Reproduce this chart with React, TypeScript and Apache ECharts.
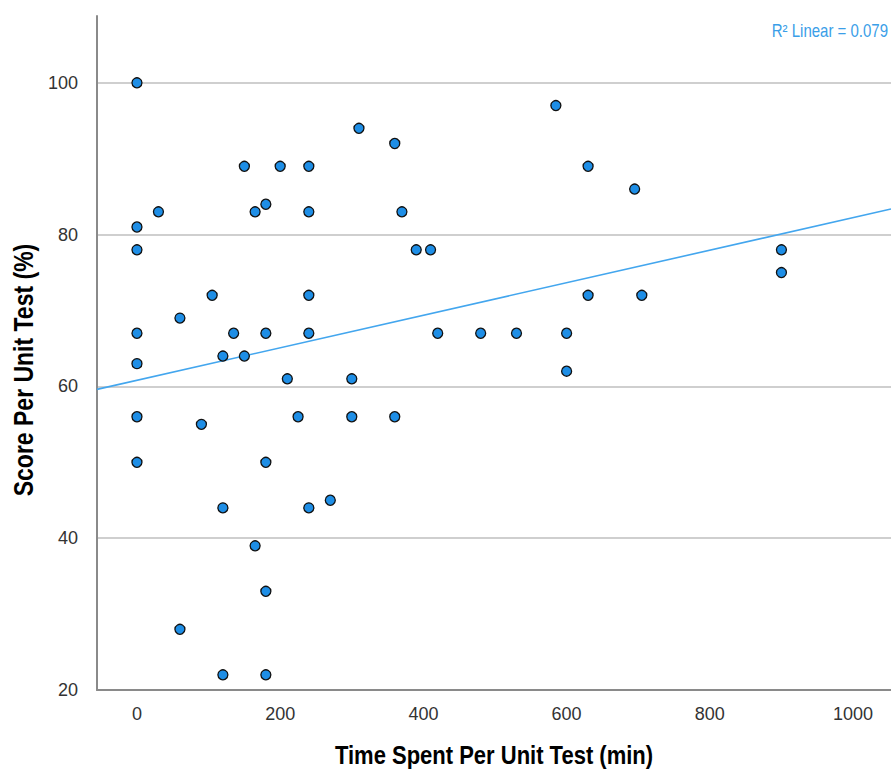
import React, { useEffect, useRef } from "react";
import * as echarts from "echarts";

// Data
const timeSpent = [
  0, 0, 0, 0, 0, 0, 0, 30, 60, 60, 90, 105, 120, 120, 120, 135, 150, 150, 165, 165,
  180, 180, 180, 180, 180, 200, 210, 225, 240, 240, 240, 240, 240, 270, 300, 300,
  310, 360, 360, 370, 390, 410, 420, 480, 530, 585, 600, 600, 630, 630, 695, 705, 900, 900,
];
const scores = [
  100, 81, 78, 67, 63, 56, 50, 83, 69, 28, 55, 72, 64, 44, 22, 67, 64, 89, 83, 39,
  84, 67, 50, 33, 22, 89, 61, 56, 89, 83, 72, 67, 44, 45, 61, 56,
  94, 92, 56, 83, 78, 78, 67, 67, 67, 97, 67, 62, 89, 72, 86, 72, 78, 75,
];
const xRange = [-55.8, 1053];
const yRange = [20, 108.8];
const fitCoefficients = [60.8, 0.02143]; // intercept, slope
const rSquaredLabel = "R\u00B2 Linear = 0.079";
const xTitle = "Time Spent Per Unit Test (min)";
const yTitle = "Score Per Unit Test (%)";

const FONT = "'Liberation Sans', Arial, sans-serif";

export default function App() {
  const ref = useRef<HTMLDivElement>(null);
  useEffect(() => {
    if (!ref.current) return;
    const chart = echarts.init(ref.current, undefined, { renderer: "svg" });
    const points = timeSpent.map((x, i) => [x, scores[i]]);
    const fitLine = xRange.map((x) => [x, fitCoefficients[0] + fitCoefficients[1] * x]);
    chart.setOption({
      animation: false,
      backgroundColor: "#ffffff",
      grid: { left: 97, top: 16, right: 0, bottom: 81, containLabel: false },
      xAxis: {
        type: "value",
        min: xRange[0],
        max: xRange[1],
        splitNumber: 5,
        axisLine: { show: true, onZero: false, lineStyle: { color: "#8a8a8a", width: 2 } },
        axisTick: { show: false },
        axisLabel: {
          showMinLabel: false,
          showMaxLabel: false,
          margin: 15,
          fontFamily: FONT,
          fontSize: 18,
          color: "#333",
          formatter: (v: number) => String(v),
        },
        splitLine: { show: false },
      },
      yAxis: {
        type: "value",
        min: yRange[0],
        max: yRange[1],
        interval: 20,
        axisLine: { show: true, onZero: false, lineStyle: { color: "#8a8a8a", width: 2 } },
        axisTick: { show: false },
        axisLabel: {
          showMaxLabel: false,
          margin: 19,
          fontFamily: FONT,
          fontSize: 18,
          color: "#333",
          formatter: (v: number) => String(v),
        },
        splitLine: {
          show: true,
          showMinLine: false,
          showMaxLine: false,
          lineStyle: { color: "#cfcfcf", width: 2 },
        },
      },
      graphic: [
        {
          type: "text",
          x: 888,
          y: 31,
          scaleY: 1.17,
          style: {
            text: rSquaredLabel,
            fill: "#3a9ee8",
            font: `15px ${FONT}`,
            align: "right",
            verticalAlign: "middle",
          },
        },
        {
          type: "text",
          x: 494,
          y: 755,
          scaleY: 1.17,
          style: {
            text: xTitle,
            fill: "#000",
            font: `bold 22px ${FONT}`,
            align: "center",
            verticalAlign: "middle",
          },
        },
        {
          type: "text",
          x: 23,
          y: 370,
          rotation: Math.PI / 2,
          scaleY: 1.17,
          style: {
            text: yTitle,
            fill: "#000",
            font: `bold 23px ${FONT}`,
            align: "center",
            verticalAlign: "middle",
          },
        },
      ],
      series: [
        {
          type: "line",
          data: fitLine,
          symbol: "none",
          lineStyle: { color: "#43a6ee", width: 1.6 },
          z: 1,
          silent: true,
        },
        {
          type: "scatter",
          data: points,
          symbol: "circle",
          symbolSize: 10,
          itemStyle: { color: "#1e8ee6", borderColor: "#111", borderWidth: 1.3, opacity: 1 },
          z: 3,
        },
      ],
    });
    return () => chart.dispose();
  }, []);
  return (
    <div
      ref={ref}
      style={{ position: "absolute", left: 0, top: 0, width: 891, height: 771 }}
    />
  );
}
